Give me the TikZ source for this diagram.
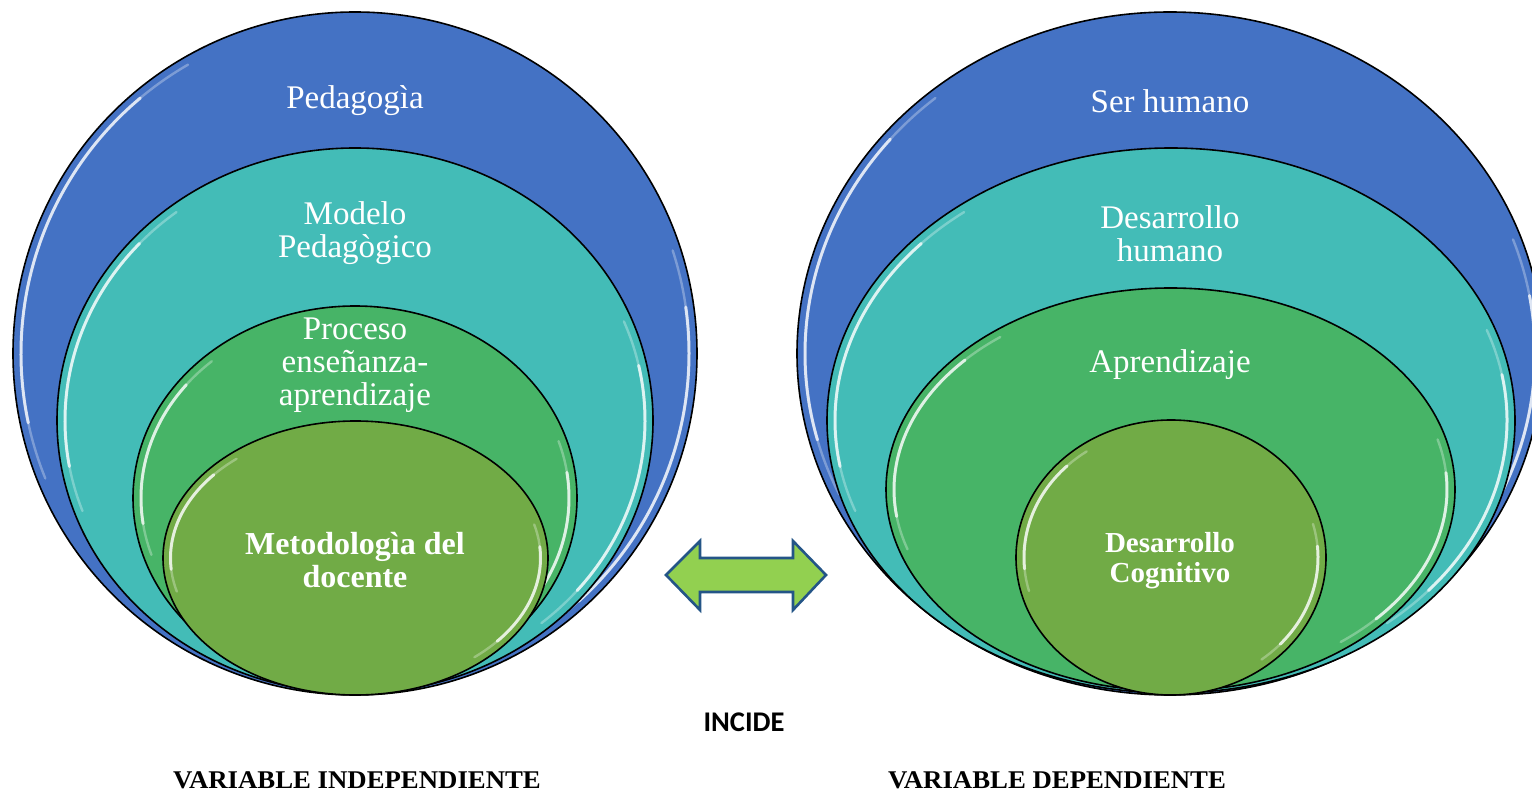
\documentclass[tikz,border=0pt]{standalone}
\usepackage{fontspec}
\setmainfont{Liberation Serif}
\newfontfamily\calibrifont{Carlito}
\usetikzlibrary{shapes.geometric}
\definecolor{cblue}{HTML}{4472C4}
\definecolor{cteal}{HTML}{43BCB7}
\definecolor{cgreen}{HTML}{47B467}
\definecolor{colive}{HTML}{71AB46}
\definecolor{arrfill}{HTML}{92D050}
\definecolor{arrline}{HTML}{245587}
\tikzset{
  ring/.style={ellipse, draw=black, line width=1.6pt, inner sep=0pt, outer sep=0pt},
  lbl/.style={text=white, align=center, inner sep=0pt, font=\fontsize{33}{33}\selectfont},
  blbl/.style={text=white, align=center, inner sep=0pt, font=\bfseries\fontsize{32}{33}\selectfont},
  blbls/.style={text=white, align=center, inner sep=0pt, font=\bfseries\fontsize{29}{30}\selectfont},
  gloss/.style={white, line width=3pt, opacity=0.75, line cap=round},
  glossfaint/.style={white, line width=2.4pt, opacity=0.3, line cap=round},
  varlbl/.style={text=black, inner sep=0pt, xscale=1.05, font=\bfseries\fontsize{25.5}{26}\selectfont},
  arrowshape/.style={fill=arrfill, draw=arrline, line width=2.6pt, line join=miter},
}
% center x, center y, x radius, y radius, start, end
\newcommand\glossarc[6]{%
  \draw[glossfaint] ([shift={(#5-10:#3 and #4)}]#1,#2) arc[start angle=#5-10, end angle=#6+10, x radius=#3, y radius=#4];
  \draw[gloss] ([shift={(#5:#3 and #4)}]#1,#2) arc[start angle=#5, end angle=#6, x radius=#3, y radius=#4];
}
\begin{document}
\begin{tikzpicture}[x=1pt,y=1pt]
\useasboundingbox (0,0) rectangle (1532,793);
\fill[white] (0,0) rectangle (1532,793);
\clip (0,0) rectangle (1532,793);

% ---------- left diagram ----------
\node[ring, fill=cblue, minimum width=684, minimum height=683] (L1) at (355,439.5) {};
\glossarc{355}{439.5}{334}{333.5}{130}{192}
\glossarc{355}{439.5}{334}{333.5}{-48}{8}
\node[ring, fill=cteal, minimum width=596, minimum height=545] (L2) at (355,372.5) {};
\glossarc{355}{372.5}{290}{264.5}{138}{190}
\glossarc{355}{372.5}{290}{264.5}{-40}{12}
\node[ring, fill=cgreen, minimum width=444, minimum height=384] (L3) at (355,295) {};
\glossarc{355}{295}{214}{184}{142}{188}
\glossarc{355}{295}{214}{184}{-38}{8}
\node[ring, fill=colive, minimum width=385, minimum height=274] (L4) at (355.5,235) {};
\glossarc{355.5}{235}{185}{129.5}{140}{185}
\glossarc{355.5}{235}{185}{129.5}{-40}{5}

% ---------- right diagram ----------
\node[ring, fill=cblue, minimum width=746, minimum height=683] (R1) at (1170,439.5) {};
\glossarc{1170}{439.5}{365}{333.5}{140}{195}
\glossarc{1170}{439.5}{365}{333.5}{-45}{10}
\node[ring, fill=cteal, minimum width=688, minimum height=545] (R2) at (1171,372.5) {};
\glossarc{1171}{372.5}{336}{264.5}{138}{190}
\glossarc{1171}{372.5}{336}{264.5}{-40}{10}
\node[ring, fill=cgreen, minimum width=569, minimum height=403] (R3) at (1170.5,303.5) {};
\glossarc{1170.5}{303.5}{276.5}{193.5}{138}{188}
\glossarc{1170.5}{303.5}{276.5}{193.5}{-42}{5}
\node[ring, fill=colive, minimum width=310, minimum height=275] (R4) at (1171,235.5) {};
\glossarc{1171}{235.5}{147}{129.5}{135}{185}
\glossarc{1171}{235.5}{147}{129.5}{-42}{5}

% ---------- labels ----------
\node[lbl] (tL1) at (355,692) {Pedagogìa};
\node[lbl] (tL2) at (355,559.5) {Modelo\\Pedagògico};
\node[lbl] (tL3) at (355,428) {Proceso\\enseñanza-\\aprendizaje};
\node[blbl] (tL4) at (355,233) {Metodologìa del\\docente};

\node[lbl] (tR1) at (1170,692) {Ser humano};
\node[lbl] (tR2) at (1170,559.5) {Desarrollo\\humano};
\node[lbl] (tR3) at (1170,428) {Aprendizaje};
\node[blbls] (tR4) at (1170,232) {Desarrollo\\Cognitivo};

% ---------- double arrow ----------
\draw[arrowshape] (666,218) -- (700,252) -- (700,235) -- (793,235) -- (793,252)
  -- (826,218) -- (793,183) -- (793,201) -- (700,201) -- (700,183) -- cycle;

\node[text=black, inner sep=0pt, font=\calibrifont\bfseries\fontsize{28.5}{30}\selectfont] (incide) at (744,71) {INCIDE};

\node[varlbl] (vind) at (357,13) {VARIABLE INDEPENDIENTE};
\node[varlbl] (vdep) at (1057,13) {VARIABLE DEPENDIENTE};
\end{tikzpicture}
\end{document}
